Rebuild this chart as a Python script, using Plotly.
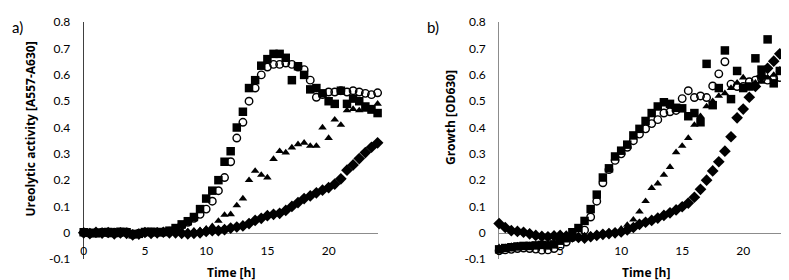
import plotly.graph_objects as go

# ---------------- data ----------------
time_h = [0, 0.5, 1, 1.5, 2, 2.5, 3, 3.5, 4, 4.5, 5, 5.5, 6, 6.5, 7, 7.5, 8, 8.5, 9, 9.5,
          10, 10.5, 11, 11.5, 12, 12.5, 13, 13.5, 14, 14.5, 15, 15.5, 16, 16.5, 17, 17.5,
          18, 18.5, 19, 19.5, 20, 20.5, 21, 21.5, 22, 22.5, 23, 23.5, 24]

# panel a) ureolytic activity [A557-A630]
urea_square = [0.002, 0.000, -0.002, 0.001, 0.003, -0.001, 0.004, 0.002, -0.006, -0.004,
               0.003, 0.004, 0.002, 0.003, 0.008,
               0.018, 0.032, 0.044, 0.060, 0.090, 0.130, 0.160, 0.200, 0.270, 0.310,
               0.400, 0.460, 0.550, 0.580, 0.635, 0.660, 0.680, 0.680, 0.665, 0.580,
               0.633, 0.600, 0.545, 0.550, 0.530, 0.500, 0.490, 0.540, 0.490, 0.510,
               0.500, 0.480, 0.470, 0.455]
urea_circle = [0.001, -0.002, 0.000, 0.002, -0.001, 0.002, 0.000, 0.003, -0.004, -0.002,
               0.002, 0.001, 0.003, 0.002, 0.006,
               0.015, 0.028, 0.040, 0.055, 0.070, 0.090, 0.120, 0.160, 0.210, 0.270,
               0.360, 0.420, 0.500, 0.550, 0.600, 0.630, 0.640, 0.640, 0.645, 0.640,
               0.630, 0.620, 0.580, 0.515, 0.525, 0.535, 0.535, 0.540, 0.535, 0.540,
               0.535, 0.530, 0.525, 0.532]
urea_triangle = [-0.003, 0.001, -0.002, 0.000, 0.002, -0.003, 0.001, -0.004, -0.006, -0.002,
                 0.000, -0.003, 0.002, 0.000, 0.003,
                 0.004, 0.006, 0.005, 0.008, 0.010, 0.015, 0.025, 0.045, 0.068, 0.070,
                 0.104, 0.130, 0.200, 0.235, 0.220, 0.210, 0.280, 0.310, 0.305, 0.324,
                 0.336, 0.342, 0.330, 0.330, 0.400, 0.360, 0.430, 0.410, 0.465, 0.470,
                 0.465, 0.467, 0.460, 0.490]
urea_diamond = [0.000, -0.003, 0.002, -0.001, 0.001, -0.004, 0.000, -0.002, -0.008, -0.005,
                0.001, -0.002, 0.000, 0.002, 0.000,
                0.000, -0.002, -0.004, -0.002, 0.000, 0.005, 0.008, 0.008, 0.012, 0.018,
                0.022, 0.026, 0.035, 0.047, 0.055, 0.065, 0.070, 0.074, 0.085, 0.100,
                0.115, 0.130, 0.140, 0.152, 0.162, 0.172, 0.185, 0.205, 0.238, 0.258,
                0.282, 0.305, 0.325, 0.342]

# panel b) growth [OD630]
growth_square = [-0.063, -0.058, -0.055, -0.052, -0.050, -0.050, -0.048, -0.046, -0.048, -0.044,
                 -0.030, -0.017, 0.002, 0.018, 0.045, 0.090, 0.145, 0.210, 0.245, 0.290,
                 0.312, 0.335, 0.370, 0.395, 0.425, 0.455, 0.480, 0.496, 0.490, 0.475,
                 0.473, 0.443, 0.455, 0.420, 0.642, 0.485, 0.550, 0.693, 0.508, 0.615,
                 0.550, 0.556, 0.663, 0.620, 0.735, 0.568, 0.615, 0.600, 0.640]
growth_circle = [-0.068, -0.065, -0.063, -0.060, -0.058, -0.060, -0.062, -0.066, -0.065, -0.060,
                 -0.050, -0.035, -0.018, -0.005, 0.010, 0.060, 0.120, 0.190, 0.240, 0.275,
                 0.300, 0.325, 0.350, 0.375, 0.395, 0.415, 0.430, 0.455, 0.460, 0.465,
                 0.510, 0.540, 0.514, 0.520, 0.514, 0.558, 0.604, 0.650, 0.565, 0.556,
                 0.556, 0.574, 0.580, 0.585, 0.580, 0.586, 0.590, 0.590, 0.592]
growth_triangle = [-0.055, -0.055, -0.050, -0.048, -0.050, -0.047, -0.045, -0.045, -0.040, -0.038,
                   -0.035, -0.030, -0.020, -0.015, -0.010, -0.008, -0.004, -0.002, 0.002, 0.005,
                   0.015, 0.030, 0.050, 0.080, 0.120, 0.170, 0.187, 0.220, 0.250, 0.306,
                   0.330, 0.360, 0.410, 0.443, 0.480, 0.500, 0.520, 0.530, 0.550, 0.570,
                   0.590, 0.556, 0.570, 0.574, 0.590, 0.600, 0.620, 0.650, 0.675]
growth_diamond = [0.035, 0.020, 0.008, 0.005, 0.002, -0.004, -0.010, -0.014, -0.015, -0.012,
                  -0.010, -0.013, -0.016, -0.018, -0.020, -0.015, -0.010, -0.006, -0.003, 0.000,
                  0.003, 0.011, 0.020, 0.032, 0.040, 0.047, 0.056, 0.066, 0.076, 0.087,
                  0.099, 0.113, 0.135, 0.165, 0.200, 0.235, 0.270, 0.310, 0.365, 0.437,
                  0.470, 0.515, 0.556, 0.595, 0.625, 0.652, 0.680, 0.695, 0.705]

x_tickvals = [0, 5, 10, 15, 20]
x_ticktext = ["0", "5", "10", "15", "20"]
y_tickvals = [-0.1, 0, 0.1, 0.2, 0.3, 0.4, 0.5, 0.6, 0.7, 0.8]
y_ticktext = ["-0.1", "0", "0.1", "0.2", "0.3", "0.4", "0.5", "0.6", "0.7", "0.8"]

# ---------------- figure ----------------
W, H = 789, 280
FONT = "Lato"
TITLE_FONT = "Open Sans"
fig = go.Figure()

styles = [
    dict(symbol="square", size=8.5, color="black", line=dict(width=0)),
    dict(symbol="circle-open", size=7.5, color="black", line=dict(width=1.4)),
    dict(symbol="triangle-up", size=7.5, color="black", line=dict(width=0)),
    dict(symbol="diamond", size=9, color="black", line=dict(width=0)),
]

for series, st in zip([urea_square, urea_circle, urea_triangle, urea_diamond], styles):
    fig.add_trace(go.Scatter(x=time_h, y=series, mode="markers", marker=st,
                             xaxis="x", yaxis="y", cliponaxis=False, showlegend=False))
for series, st in zip([growth_square, growth_circle, growth_triangle, growth_diamond], styles):
    fig.add_trace(go.Scatter(x=time_h, y=series, mode="markers", marker=st,
                             xaxis="x2", yaxis="y2", cliponaxis=False, showlegend=False))

y_dom = [1 - 257 / H, 1 - 6.5 / H]
ymin, ymax = -0.1, 0.8
eps = 0.0005
zero_pos = y_dom[0] + (0 - ymin) / (ymax - ymin) * (y_dom[1] - y_dom[0])

tickfont = dict(family=FONT, size=12, color="#000000")
xax_common = dict(range=[0, 24], tickvals=x_tickvals, ticktext=x_ticktext, showgrid=False,
                  zeroline=False, showline=True, linecolor="#8c8c8c", linewidth=1,
                  ticks="", tickfont=tickfont, anchor="free", position=zero_pos,
                  layer="below traces", ticklabelstandoff=7, ticklabeloverflow="allow")
yax_common = dict(range=[ymin - eps, ymax + eps], tickvals=y_tickvals, ticktext=y_ticktext,
                  showgrid=False, zeroline=False, showline=True, linewidth=1, ticks="",
                  tickfont=tickfont, domain=y_dom, layer="below traces", ticklabelstandoff=10,
                  ticklabeloverflow="allow")

fig.update_layout(
    width=W, height=H,
    margin=dict(l=0, r=0, t=0, b=0),
    paper_bgcolor="white", plot_bgcolor="white",
    font=dict(family=FONT, color="black"),
    showlegend=False,
    xaxis=dict(domain=[73 / W, 368 / W], **xax_common),
    xaxis2=dict(domain=[490 / W, 784 / W], **xax_common),
    yaxis=dict(anchor="x", linecolor="#404040", **yax_common),
    yaxis2=dict(anchor="x2", linecolor="#8c8c8c", **yax_common),
)

ann = [
    dict(text="a)", x=7 / W, y=1 - 12 / H, size=15, weight="normal", angle=0, fam=FONT),
    dict(text="b)", x=424 / W, y=1 - 12 / H, size=15, weight="normal", angle=0, fam=FONT),
    dict(text="Ureolytic activity [A557-A630]", x=20 / W, y=1 - 119 / H, size=12, weight="bold", angle=-90, fam=TITLE_FONT),
    dict(text="Growth [OD630]", x=441 / W, y=1 - 107.5 / H, size=12, weight="bold", angle=-90, fam=TITLE_FONT),
    dict(text="Time [h]", x=220.5 / W, y=1 - 271 / H, size=12, weight="bold", angle=0, fam=TITLE_FONT),
    dict(text="Time [h]", x=637 / W, y=1 - 271 / H, size=12, weight="bold", angle=0, fam=TITLE_FONT),
]
for a in ann:
    fig.add_annotation(text=a["text"], x=a["x"], y=a["y"], xref="paper", yref="paper",
                       xanchor="center", yanchor="middle", showarrow=False,
                       textangle=a["angle"],
                       font=dict(family=a["fam"], size=a["size"], color="black", weight=a["weight"]))

fig.write_html("out.html")
